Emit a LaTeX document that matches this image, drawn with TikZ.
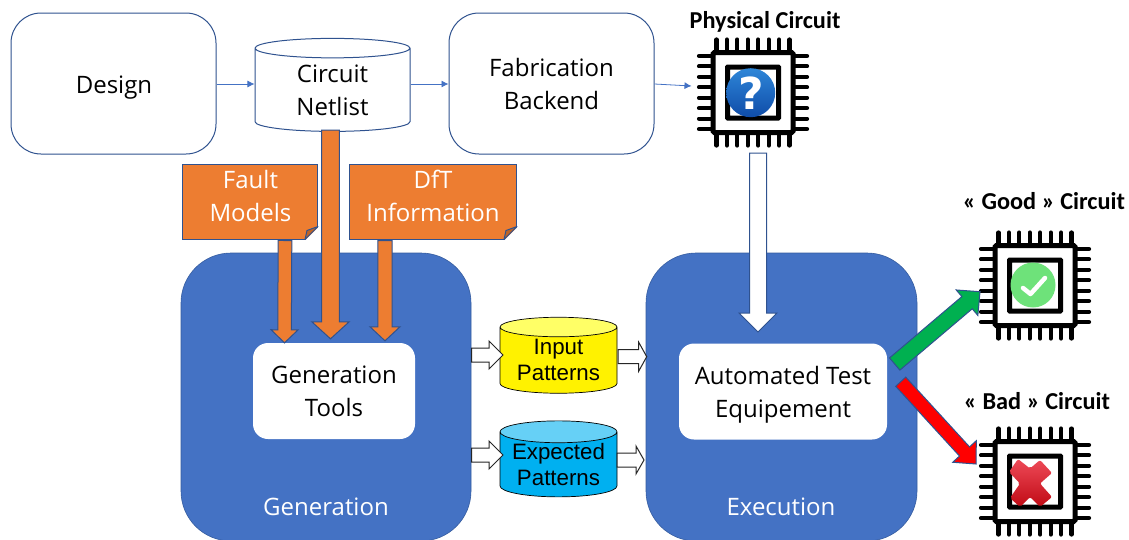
\documentclass[tikz,border=0pt]{standalone}
\usepackage{xcolor}
\usepackage{fontspec}
\setmainfont{Open Sans}
\newfontfamily\titlefont{Carlito}
\newfontfamily\patternfont{Liberation Sans}
\newfontfamily\markfont{DejaVu Sans}
\usetikzlibrary{shapes.geometric, arrows.meta, calc}
\definecolor{edgeblue}{HTML}{2F528F}
\definecolor{stageblue}{HTML}{4472C4}
\definecolor{noteorange}{HTML}{ED7D31}
\definecolor{foldorange}{HTML}{BE6427}
\definecolor{goodgreen}{HTML}{00B050}
\definecolor{okgreen}{HTML}{6EE27A}
\definecolor{storeblue}{HTML}{00B0F0}
\definecolor{storeblueend}{HTML}{66D0F6}
\definecolor{storeyellowend}{HTML}{FFFF66}
\definecolor{asktop}{HTML}{2E86D8}
\definecolor{askbottom}{HTML}{0F4CA8}
\definecolor{crosstop}{HTML}{EE4A58}
\definecolor{crossbottom}{HTML}{C00A14}
\tikzstyle{every node}=[font=\fontsize{24}{33}\selectfont]
\tikzstyle{flowbox} = [rectangle, draw=edgeblue, line width=1pt, fill=white, rounded corners=30pt, minimum width=205pt, minimum height=141pt, align=center]
\tikzstyle{stage} = [rectangle, draw=edgeblue!70!stageblue, line width=.6pt, fill=stageblue, rounded corners=50pt]
\tikzstyle{toolbox} = [rectangle, fill=white, rounded corners=15pt, minimum height=96pt, align=center]
\tikzstyle{stagetext} = [text=white]
\tikzstyle{notebox} = [rectangle, draw=edgeblue, line width=1pt, fill=noteorange, minimum height=75pt]
\tikzstyle{notetext} = [text=white, align=center]
\tikzstyle{store} = [cylinder, shape border rotate=90, draw=black, line width=.7pt, cylinder uses custom fill, inner sep=0pt, align=center, aspect=.235, minimum width=117pt, minimum height=76pt, font=\patternfont\fontsize{22.3}{26}\selectfont]
\tikzstyle{chiptitle} = [font=\titlefont\bfseries\fontsize{24.3}{26}\selectfont]
\tikzstyle{chipbody} = [rectangle, draw=black, line width=5pt, fill=white, rounded corners=1.5pt, minimum size=80pt, inner sep=0pt]
\tikzstyle{chipcore} = [rectangle, draw=black, line width=5pt, fill=white, rounded corners=.5pt, minimum size=51pt, inner sep=0pt]
\tikzstyle{chippin} = [draw=black, line width=4.2pt, line cap=round]
\tikzstyle{line} = [draw=stageblue, line width=.8pt, -{Latex[length=7pt,width=7pt]}]
\tikzstyle{bigarrow} = [draw=edgeblue, line width=1pt, line join=miter]
\tikzstyle{smallarrow} = [draw=black!85, line width=1pt, fill=white, line join=miter]
\newcommand{\blockarrow}[6]{%
  \coordinate (headbase) at ($(#3)!#6!(#2)$);
  \draw[#1] ($(#2)!#4!90:(#3)$) -- ($(headbase)!#4!90:(#3)$) -- ($(headbase)!#5!90:(#3)$) -- (#3)
    -- ($(headbase)!#5!-90:(#3)$) -- ($(headbase)!#4!-90:(#3)$) -- ($(#2)!#4!-90:(#3)$) -- cycle;
}
\newcommand{\chip}[3]{%
  \foreach \i in {-3.5,-2.5,...,3.5} {
    \draw[chippin, shift={(#2,#3)}] ({\i*10.45},-53) -- ({\i*10.45},53);
    \draw[chippin, shift={(#2,#3)}] (-54,{\i*10.45}) -- (54,{\i*10.45});
  }
  \node[chipbody] (#1) at (#2,#3) {};
  \node[chipcore] (#1core) at (#1) {};
}
\begin{document}
\begin{tikzpicture}[x=1pt,y=-1pt]
    \useasboundingbox (0,0) rectangle (1129,539);
    \clip (0,0) rectangle (1129,539);
    % Place nodes
    \node [flowbox] (design) at (113.5,83.5) {};
    \node (designname) at (114,87.5) {Design};
    \node [store, minimum width=155pt, minimum height=93pt, aspect=.27, draw=edgeblue, line width=1pt, cylinder body fill=white, cylinder end fill=white, font=\fontsize{24}{33}\selectfont] (netlist) at (332.5,90) {Circuit\\Netlist};
    \node [flowbox] (backend) at (551.5,83.5) {Fabrication\\Backend};
    \node [stage, minimum width=290pt, minimum height=288pt] (generation) at (326,397) {};
    \node [stage, minimum width=271pt, minimum height=288pt] (execution) at (781.5,397) {};
    \node [stagetext] (generationname) at (326,507) {Generation};
    \node [stagetext] (executionname) at (781,507) {Execution};
    \node [toolbox, minimum width=162pt] (tools) at (334,391) {Generation\\Tools};
    \node [toolbox, minimum width=208pt] (tester) at (783,391.5) {};
    \node [align=center] (testername) at (783,394.5) {Automated Test\\Equipement};
    \node [notebox, minimum width=135pt] (fault) at (250,201.5) {};
    \node [notetext] (faultname) at (250.5,196) {Fault\\Models};
    \node [notebox, minimum width=167pt] (dft) at (433,201.5) {};
    \node [notetext] (dftname) at (433,196) {DfT\\Information};
    % Folded corners of the notes
    \foreach \n in {fault,dft} {
      \fill [white] ($(\n.south east)+(1,1)$) -- ++(-14,0) -- ++(14,-14) -- cycle;
      \draw [draw=edgeblue, line width=1pt, fill=foldorange, line join=round] ($(\n.south east)+(-13,0)$) -- ($(\n.south east)+(0,-13)$) -- ($(\n.south east)+(-11,-9)$) -- cycle;
    }
    \node [store, cylinder body fill=yellow, cylinder end fill=storeyellowend] (input) at (558.5,360.3) {Input\\Patterns};
    \node [store, cylinder body fill=storeblue, cylinder end fill=storeblueend] (expected) at (558.5,464.5) {Expected\\Patterns};
    % Chips and what is printed on them
    \chip{physical}{753}{92.5}
    \chip{good}{1035}{285.5}
    \chip{bad}{1035}{481.5}
    \node [chiptitle] (physicalname) at (765,22) {Physical Circuit};
    \node [chiptitle] (goodname) at (1044,201) {« Good » Circuit};
    \node [chiptitle] (badname) at (1037,401) {« Bad » Circuit};
    \shade [top color=asktop, bottom color=askbottom] (750.7,92.7) circle (24.5pt);
    \node [font=\markfont\bfseries\fontsize{44}{44}\selectfont, text=white, inner sep=0pt] (question) at (751,92.7) {?};
    \fill [okgreen] (1033,285) circle (22.5pt);
    \draw [white, line width=4.5pt, line cap=round, line join=round] (1023,288) -- (1030.5,294) -- (1045,278);
    \shade [top color=crosstop, bottom color=crossbottom, rounded corners=2pt]
      (1018,459) -- (1030,468.5) -- (1040,460) -- (1052,473) -- (1040,483.5) -- (1052,497) -- (1040,507) -- (1030,497) -- (1020,507) -- (1010,498) -- (1020,483.5) -- (1009,472) -- cycle;
    % Free ends of the block arrows
    \coordinate (faultstart) at ($(fault.south)+(35,1)$);
    \coordinate (faultend) at ($(tools.north)+(-49.5,0)$);
    \coordinate (netliststart) at (330.5,130);
    \coordinate (netlistend) at ($(tools.north)+(-3.5,-4)$);
    \coordinate (dftstart) at ($(dft.south)+(-48,1)$);
    \coordinate (dftend) at ($(tools.north)+(51,-2)$);
    \coordinate (physicalstart) at (758,153);
    \coordinate (physicalend) at (758,332);
    \coordinate (goodstart) at (894.7,364);
    \coordinate (goodend) at (980,291.7);
    \coordinate (badstart) at (900.7,381.7);
    \coordinate (badend) at (976,464);
    \coordinate (inputin) at (471.7,355);
    \coordinate (inputintip) at (503,355);
    \coordinate (inputout) at (618,356.7);
    \coordinate (inputouttip) at (646.7,356.7);
    \coordinate (expectedin) at (471.7,455);
    \coordinate (expectedintip) at (503,455);
    \coordinate (expectedout) at (617,460);
    \coordinate (expectedouttip) at (644,460);
    % Draw edges
    \path [line] (design.east |- 0,84) -- (netlist.west |- 0,84);
    \path [line] (netlist.east |- 0,84) -- (backend.west |- 0,84);
    \path [line] (backend.east |- 0,84) -- (691.5,86);
    \blockarrow{bigarrow, fill=noteorange}{faultstart}{faultend}{6.8pt}{13.5pt}{13pt}
    \blockarrow{bigarrow, fill=noteorange}{netliststart}{netlistend}{8.8pt}{18.7pt}{17pt}
    \blockarrow{bigarrow, fill=noteorange}{dftstart}{dftend}{7.2pt}{15pt}{14pt}
    \blockarrow{bigarrow, fill=white}{physicalstart}{physicalend}{8.5pt}{19pt}{19pt}
    \blockarrow{bigarrow, fill=goodgreen}{goodstart}{goodend}{8pt}{16.7pt}{17pt}
    \blockarrow{bigarrow, fill=red}{badstart}{badend}{6.8pt}{16pt}{17pt}
    \blockarrow{smallarrow}{inputin}{inputintip}{7pt}{14pt}{14pt}
    \blockarrow{smallarrow}{inputout}{inputouttip}{7pt}{14.5pt}{8pt}
    \blockarrow{smallarrow}{expectedin}{expectedintip}{7pt}{14pt}{14pt}
    \blockarrow{smallarrow}{expectedout}{expectedouttip}{7pt}{14pt}{8pt}
\end{tikzpicture}
\end{document}
